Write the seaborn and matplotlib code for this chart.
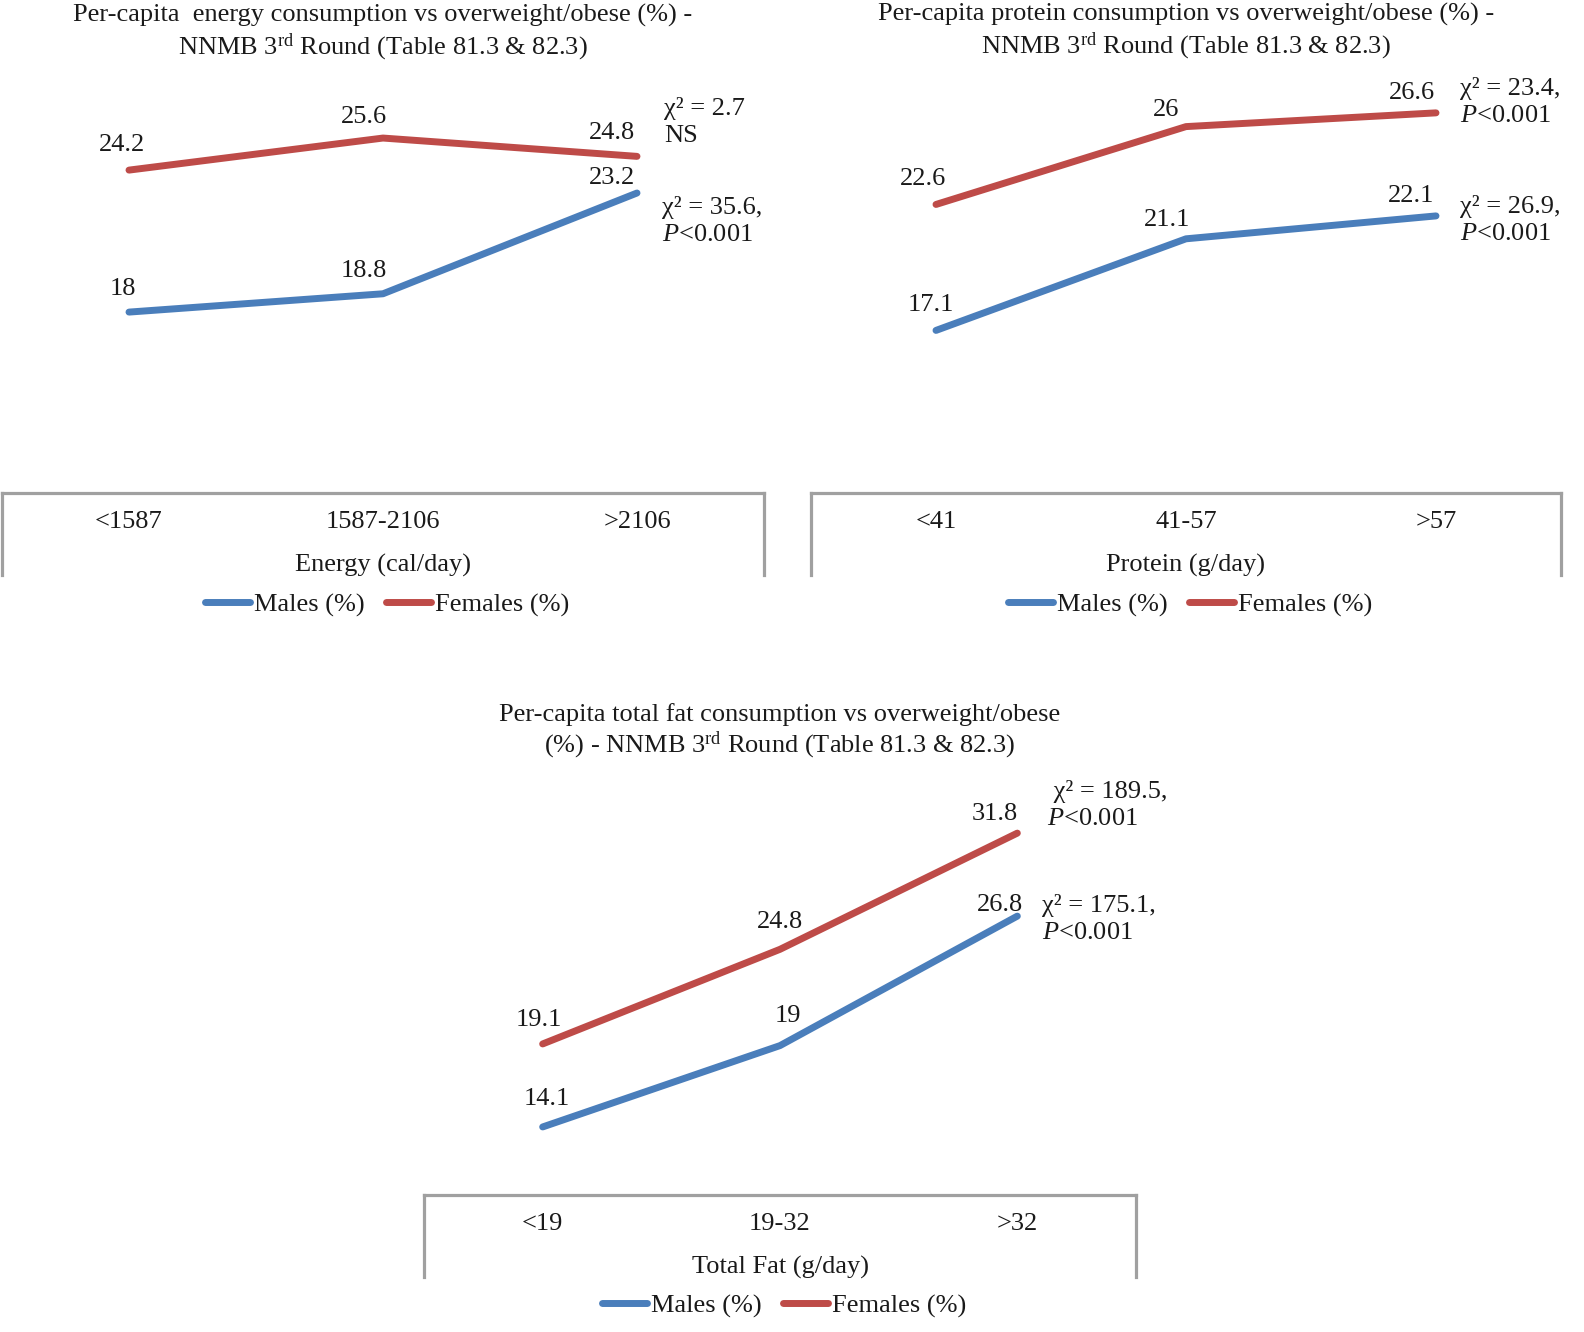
"""Three-panel line chart: per-capita energy / protein / total fat consumption
vs overweight/obese (%) for males and females, NNMB 3rd Round."""
import matplotlib
matplotlib.use('Agg')
import matplotlib.pyplot as plt
import pandas as pd
import seaborn as sns

# ---- data ----
ENERGY_CATS = ['<1587', '1587-2106', '>2106']
ENERGY_MALES = [18, 18.8, 23.2]
ENERGY_FEMALES = [24.2, 25.6, 24.8]
ENERGY_CHI = {'Males (%)': 'χ² = 35.6,\n$\\mathit{P}$<0.001',
              'Females (%)': 'χ² = 2.7\nNS'}

PROTEIN_CATS = ['<41', '41-57', '>57']
PROTEIN_MALES = [17.1, 21.1, 22.1]
PROTEIN_FEMALES = [22.6, 26, 26.6]
PROTEIN_CHI = {'Males (%)': 'χ² = 26.9,\n$\\mathit{P}$<0.001',
               'Females (%)': 'χ² = 23.4,\n$\\mathit{P}$<0.001'}

FAT_CATS = ['<19', '19-32', '>32']
FAT_MALES = [14.1, 19, 26.8]
FAT_FEMALES = [19.1, 24.8, 31.8]
FAT_CHI = {'Males (%)': 'χ² = 175.1,\n$\\mathit{P}$<0.001',
           'Females (%)': ' χ² = 189.5,\n$\\mathit{P}$<0.001'}

SERIES = ['Males (%)', 'Females (%)']
PALETTE = {'Males (%)': '#4A7EBB', 'Females (%)': '#BE4B48'}
BOX_GRAY = '#A0A0A0'
TXT = '#1a1a1a'

# ---- style ----
sns.set_theme(style='white')
plt.rcParams['font.family'] = ['Liberation Serif', 'DejaVu Serif']
plt.rcParams['mathtext.fontset'] = 'custom'
plt.rcParams['mathtext.rm'] = 'Liberation Serif'
plt.rcParams['mathtext.it'] = 'Liberation Serif:italic'
FS = 19
LW = 5.0

W, H = 1584, 1332
fig = plt.figure(figsize=(W / 100, H / 100), dpi=100)


def fx(px):
    return px / W


def fy(py):
    return 1 - py / H


def draw_panel(cats, males, females, chi, xlabel, title, lay):
    df = pd.DataFrame({
        'cat': list(cats) * 2,
        'value': list(males) + list(females),
        'series': [SERIES[0]] * len(cats) + [SERIES[1]] * len(cats),
    })
    left, right, top, atop = lay['left'], lay['right'], lay['top'], lay['axtop']
    ax = fig.add_axes([fx(left), fy(top), fx(right - left), (top - atop) / H])
    sns.lineplot(data=df, x='cat', y='value', hue='series', hue_order=SERIES,
                 palette=PALETTE, linewidth=LW, solid_capstyle='round',
                 sort=False, ax=ax)
    lo, ppu = lay['lo'], lay['ppu']
    ax.set_ylim(lo, lo + (top - atop) / ppu)
    ax.set_xlim(-0.5, len(cats) - 0.5)

    # category box: gray top edge (the x axis) plus two short sides
    for s in ('left', 'right', 'top'):
        ax.spines[s].set_visible(False)
    ax.spines['bottom'].set_color(BOX_GRAY)
    ax.spines['bottom'].set_linewidth(2.3)
    depth = lay['depth'] / ppu
    for xe in (-0.5, len(cats) - 0.5):
        ax.plot([xe, xe], [lo, lo - depth], color=BOX_GRAY, lw=2.3,
                clip_on=False, solid_capstyle='projecting')
    ax.set_yticks([])
    ax.tick_params(axis='x', length=0, pad=13, labelsize=FS, labelcolor=TXT)
    ax.set_xlabel(xlabel, fontsize=FS, color=TXT, labelpad=15)
    ax.set_ylabel('')

    # data labels
    for name, vals in zip(SERIES, (males, females)):
        for i, v in enumerate(vals):
            dx, dy = lay['offsets'][name][i]
            ax.annotate(f'{v:g}', xy=(i, v), xytext=(dx, dy),
                        textcoords='offset pixels', ha='center', va='center',
                        fontsize=FS, color=TXT)
        dx, dy = lay['chi'][name]
        ax.annotate(chi[name], xy=(len(cats) - 1, vals[-1]), xytext=(dx, dy),
                    textcoords='offset pixels', ha='left', va='center',
                    fontsize=FS, color=TXT, linespacing=1.3,
                    annotation_clip=False)

    # legend under the box
    h, l = ax.get_legend_handles_labels()
    ax.get_legend().remove()
    leg = ax.legend(h, l, loc='center', ncol=2, frameon=False,
                    bbox_to_anchor=(fx((left + right) / 2 + 4), fy(lay['legy'])),
                    bbox_transform=fig.transFigure, fontsize=FS,
                    handlelength=1.7, handletextpad=0.15, columnspacing=0.8)
    for t in leg.get_texts():
        t.set_color(TXT)
    for ln in leg.get_lines():
        ln.set_linewidth(LW)
        ln.set_solid_capstyle('round')

    fig.text(fx((left + right) / 2), fy(lay['titley']), title, ha='center',
             va='center', fontsize=FS, color=TXT, linespacing=1.2)
    return ax


LAY_ENERGY = dict(
    left=2, right=764, top=493, axtop=70, lo=10.1, ppu=22.9, depth=82,
    legy=605, titley=33,
    offsets={'Males (%)': [(-6, 23), (-19, 23), (-25, 15)],
             'Females (%)': [(-7, 25), (-19, 21), (-25, 23)]},
    chi={'Males (%)': (25, -28), 'Females (%)': (27, 34)},
)
LAY_PROTEIN = dict(
    left=811, right=1561, top=493, axtop=70, lo=10.0, ppu=22.9, depth=82,
    legy=605, titley=32,
    offsets={'Males (%)': [(-5, 25), (-19, 19), (-25, 20)],
             'Females (%)': [(-13, 25), (-20, 17), (-24, 20)]},
    chi={'Males (%)': (24, -4), 'Females (%)': (24, 11)},
)
LAY_FAT = dict(
    left=424, right=1136, top=1195, axtop=770, lo=10.0, ppu=16.6, depth=82,
    legy=1306, titley=732,
    offsets={'Males (%)': [(4, 28), (8, 30), (-17, 11)],
             'Females (%)': [(-4, 24), (0, 27), (-23, 19)]},
    chi={'Males (%)': (25, -3), 'Females (%)': (30, 28)},
)

draw_panel(ENERGY_CATS, ENERGY_MALES, ENERGY_FEMALES, ENERGY_CHI,
           'Energy (cal/day)',
           'Per-capita  energy consumption vs overweight/obese (%) -\n'
           'NNMB 3$^{\\mathrm{rd}}$ Round (Table 81.3 & 82.3)', LAY_ENERGY)
draw_panel(PROTEIN_CATS, PROTEIN_MALES, PROTEIN_FEMALES, PROTEIN_CHI,
           'Protein (g/day)',
           'Per-capita protein consumption vs overweight/obese (%) -\n'
           'NNMB 3$^{\\mathrm{rd}}$ Round (Table 81.3 & 82.3)', LAY_PROTEIN)
draw_panel(FAT_CATS, FAT_MALES, FAT_FEMALES, FAT_CHI,
           'Total Fat (g/day)',
           'Per-capita total fat consumption vs overweight/obese\n'
           '(%) - NNMB 3$^{\\mathrm{rd}}$ Round (Table 81.3 & 82.3)', LAY_FAT)

fig.savefig('out.png', dpi=100, facecolor='white')
plt.close(fig)
